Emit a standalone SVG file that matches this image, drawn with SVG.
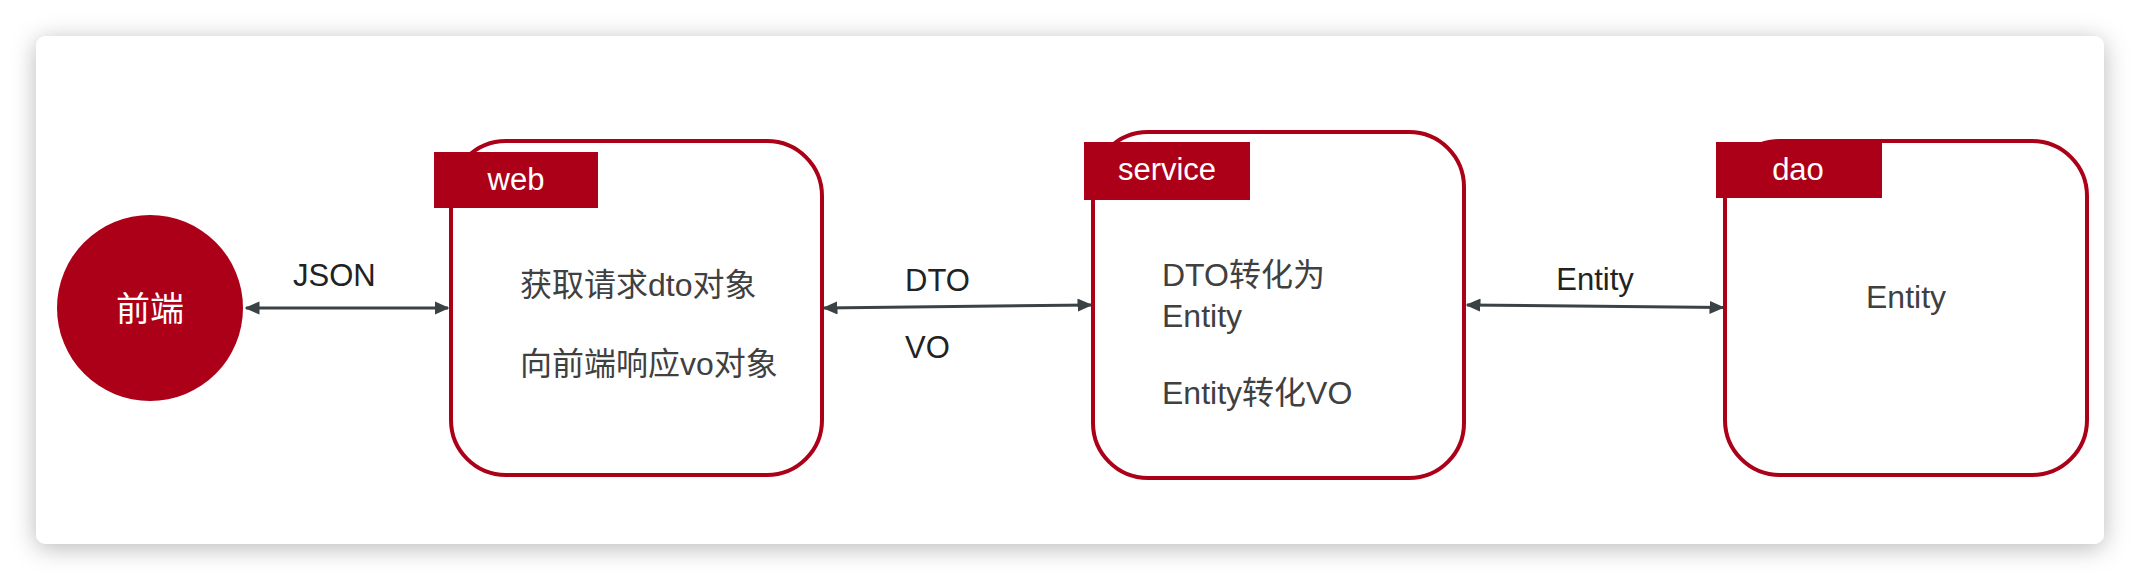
<svg xmlns="http://www.w3.org/2000/svg" width="2140" height="580" viewBox="0 0 2140 580">
  <defs>
    <filter id="shadow" x="-5%" y="-20%" width="110%" height="140%">
      <feDropShadow dx="0" dy="4" stdDeviation="12" flood-color="#000" flood-opacity="0.28"/>
    </filter>
    <marker id="arr" viewBox="0 0 10 10" refX="9" refY="5" markerWidth="5" markerHeight="4.4" orient="auto-start-reverse" markerUnits="strokeWidth" preserveAspectRatio="none">
      <path d="M0,0 L10,5 L0,10 Z" fill="#3b4245"/>
    </marker>
    <style>
      .box { fill: #ffffff; stroke: #ac0019; stroke-width: 4; }
      .tag { fill: #ac0019; }
      .tagtxt { fill: #ffffff; font-family: "Liberation Sans", "Noto Sans CJK SC", sans-serif; font-size: 31px; text-anchor: middle; }
      .body { fill: #404040; font-family: "Liberation Sans", "Noto Sans CJK SC", sans-serif; font-size: 32px; }
      .lbl { fill: #222222; font-family: "Liberation Sans", "Noto Sans CJK SC", sans-serif; font-size: 31px; }
      .conn { stroke: #3b4245; stroke-width: 3; fill: none; marker-start: url(#arr); marker-end: url(#arr); }
    </style>
  </defs>

  <rect x="0" y="0" width="2140" height="580" fill="#ffffff"/>
  <rect x="36" y="36" width="2068" height="508" rx="10" ry="10" fill="#ffffff" filter="url(#shadow)"/>

  <g id="connectors">
    <line class="conn" x1="246" y1="308" x2="448" y2="308"/>
    <line class="conn" x1="824" y1="308" x2="1091" y2="305"/>
    <line class="conn" x1="1467" y1="305" x2="1723" y2="307.5"/>
    <text class="lbl" x="293" y="286">JSON</text>
    <text class="lbl" x="905" y="291">DTO</text>
    <text class="lbl" x="905" y="358">VO</text>
    <text class="lbl" x="1595" y="290" text-anchor="middle">Entity</text>
  </g>

  <g id="frontend">
    <circle cx="150" cy="308" r="93" fill="#ac0019"/>
    <text x="150" y="321" fill="#ffffff" font-family="'Noto Sans CJK SC', sans-serif" font-size="34" text-anchor="middle">前端</text>
  </g>

  <g id="web">
    <rect class="box" x="451" y="141" width="371" height="334" rx="55" ry="55"/>
    <rect class="tag" x="434" y="152" width="164" height="56"/>
    <text class="tagtxt" x="516" y="190">web</text>
    <text class="body" x="520" y="296">获取请求dto对象</text>
    <text class="body" x="520" y="375">向前端响应vo对象</text>
  </g>

  <g id="service">
    <rect class="box" x="1093" y="132" width="371" height="346" rx="55" ry="55"/>
    <rect class="tag" x="1084" y="142" width="166" height="58"/>
    <text class="tagtxt" x="1167" y="180">service</text>
    <text class="body" x="1162" y="286">DTO转化为</text>
    <text class="body" x="1162" y="327">Entity</text>
    <text class="body" x="1162" y="404">Entity转化VO</text>
  </g>

  <g id="dao">
    <rect class="box" x="1725" y="141" width="362" height="334" rx="55" ry="55"/>
    <rect class="tag" x="1716" y="142" width="166" height="56"/>
    <text class="tagtxt" x="1798" y="180">dao</text>
    <text class="body" x="1906" y="308" text-anchor="middle">Entity</text>
  </g>
</svg>
